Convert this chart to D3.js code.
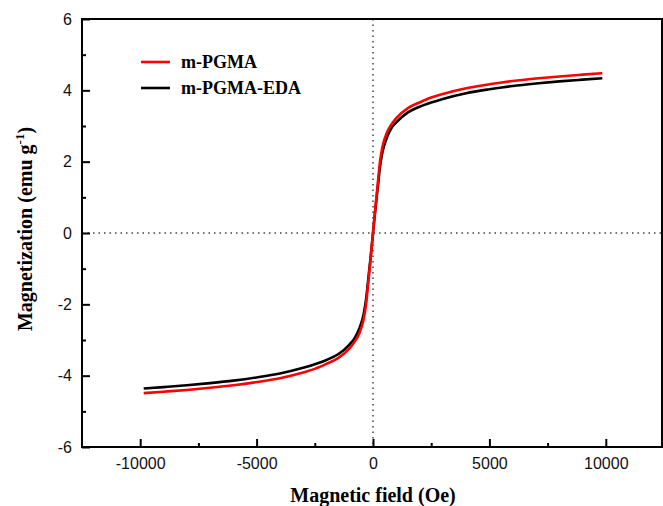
<!DOCTYPE html>
<html>
<head>
<meta charset="utf-8">
<script src="https://cdn.jsdelivr.net/npm/d3@7"></script>
<style>
  body { margin: 0; background: #fff; }
  svg { display: block; }
</style>
</head>
<body>
<div id="container"></div>
<script>
// applied field (Oe)
const field = [-9850, -9000, -8000, -7000, -6000, -5000, -4000, -3000, -2500, -2000, -1500, -1000, -800, -600, -400, -300, -200, -100,
  0, 100, 200, 300, 400, 600, 800, 1000, 1500, 2000, 2500, 3000, 4000, 5000, 6000, 7000, 8000, 9000, 9850];
// magnetization (emu/g)
const mPGMA = [-4.49, -4.45, -4.40, -4.34, -4.27, -4.18, -4.07, -3.91, -3.81, -3.67, -3.51, -3.23, -3.06, -2.83, -2.41, -2.01, -1.36, -0.71,
  0, 0.70, 1.35, 2.00, 2.40, 2.82, 3.05, 3.22, 3.50, 3.66, 3.80, 3.90, 4.06, 4.17, 4.26, 4.33, 4.39, 4.44, 4.48];
const mPGMAEDA = [-4.36, -4.32, -4.27, -4.21, -4.14, -4.05, -3.94, -3.78, -3.68, -3.56, -3.40, -3.12, -2.96, -2.70, -2.27, -1.87, -1.27, -0.66,
  0, 0.65, 1.25, 1.85, 2.25, 2.68, 2.95, 3.10, 3.38, 3.54, 3.66, 3.76, 3.92, 4.03, 4.12, 4.19, 4.25, 4.30, 4.34];

const seriesNames = ["m-PGMA", "m-PGMA-EDA"];
const xTicks = [-10000, -5000, 0, 5000, 10000];
const xMinor = [-7500, -2500, 2500, 7500];
const yTicks = [-6, -4, -2, 0, 2, 4, 6];
const yMinor = [-5, -3, -1, 1, 3, 5];

const width = 663, height = 506;
const plotL = 82, plotR = 662, plotT = 19, plotB = 447;

const svg = d3.select("#container").append("svg")
  .attr("width", width).attr("height", height);

const x = d3.scaleLinear().domain([-12500, 12500]).range([plotL, plotR + 2]);
const y = d3.scaleLinear().domain([-6, 6]).range([plotB, plotT]);

// zero lines
svg.append("line")
  .attr("x1", x(0)).attr("x2", x(0)).attr("y1", plotT).attr("y2", plotB)
  .attr("stroke", "#444").attr("stroke-width", 1.5).attr("stroke-dasharray", "1.5,4");
svg.append("line")
  .attr("x1", plotL).attr("x2", plotR).attr("y1", y(0)).attr("y2", y(0))
  .attr("stroke", "#444").attr("stroke-width", 1.5).attr("stroke-dasharray", "1.5,4");

// curves
const line = d3.line()
  .x((d, i) => x(field[i]))
  .y(d => y(d))
  .curve(d3.curveMonotoneX);

svg.append("path").datum(mPGMAEDA)
  .attr("fill", "none").attr("stroke", "#000").attr("stroke-width", 2.6)
  .attr("d", line);
svg.append("path").datum(mPGMA)
  .attr("fill", "none").attr("stroke", "#f00").attr("stroke-width", 2.6)
  .attr("d", line);

// axes
const tickFont = "'Liberation Sans', Arial, sans-serif";
const fmt = d => String(d);
svg.append("g").attr("transform", `translate(0,${plotB})`)
  .call(d3.axisBottom(x).tickValues(xTicks).tickFormat(fmt).tickSize(-8).tickPadding(11));
svg.append("g").attr("transform", `translate(0,${plotB})`)
  .call(d3.axisBottom(x).tickValues(xMinor).tickSize(-4).tickFormat(""));
svg.append("g").attr("transform", `translate(${plotL},0)`)
  .call(d3.axisLeft(y).tickValues(yTicks).tickFormat(fmt).tickSize(-8).tickPadding(10));
svg.append("g").attr("transform", `translate(${plotL},0)`)
  .call(d3.axisLeft(y).tickValues(yMinor).tickSize(-4).tickFormat(""));

svg.selectAll(".domain").remove();
svg.selectAll(".tick line").attr("stroke", "#000").attr("stroke-width", 2);
svg.selectAll(".tick text").attr("font-family", tickFont).attr("font-size", 16).attr("fill", "#111");

// frame
svg.append("rect")
  .attr("x", plotL).attr("y", plotT).attr("width", plotR - plotL).attr("height", plotB - plotT)
  .attr("fill", "none").attr("stroke", "#000").attr("stroke-width", 2);

// titles
const titleFont = "'Liberation Serif', 'Times New Roman', serif";
svg.append("text")
  .attr("x", 373).attr("y", 502).attr("text-anchor", "middle")
  .attr("font-family", titleFont).attr("font-weight", "bold").attr("font-size", 20)
  .text("Magnetic field (Oe)");

const yt = svg.append("text")
  .attr("transform", "translate(32,229) rotate(-90)").attr("text-anchor", "middle")
  .attr("font-family", titleFont).attr("font-weight", "bold").attr("font-size", 20);
yt.append("tspan").text("Magnetization (emu g");
yt.append("tspan").attr("font-size", 13).attr("dy", -8).text("-1");
yt.append("tspan").attr("dy", 8).text(")");

// legend
const legendColors = ["#f00", "#000"];
const legend = svg.append("g");
seriesNames.forEach((name, i) => {
  const ly = 62 + i * 26;
  legend.append("line")
    .attr("x1", 141).attr("x2", 170).attr("y1", ly).attr("y2", ly)
    .attr("stroke", legendColors[i]).attr("stroke-width", 2.6);
  legend.append("text")
    .attr("x", 181).attr("y", ly + 6)
    .attr("font-family", titleFont).attr("font-weight", "bold").attr("font-size", 18)
    .text(name);
});
</script>
</body>
</html>
